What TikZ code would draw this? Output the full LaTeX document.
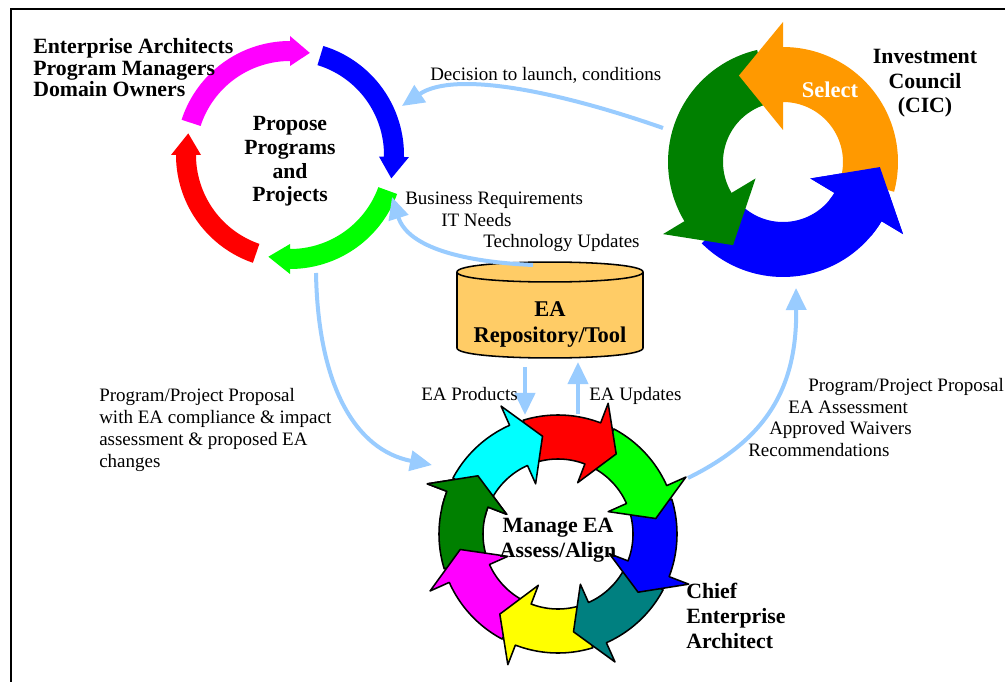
\documentclass[tikz,border=0pt]{standalone}
\usepackage{fontspec}
\setmainfont{Liberation Serif}
\usetikzlibrary{arrows.meta}
\definecolor{flowblue}{RGB}{153,204,255}
\definecolor{repofill}{RGB}{255,204,102}
\definecolor{corange}{RGB}{255,153,0}
\definecolor{cdkgreen}{RGB}{0,128,0}
\definecolor{cteal}{RGB}{0,128,128}
\definecolor{cblue}{RGB}{0,0,255}
\definecolor{cgreen}{RGB}{0,255,0}
\definecolor{cred}{RGB}{255,0,0}
\definecolor{cmagenta}{RGB}{255,0,255}
\definecolor{ccyan}{RGB}{0,255,255}
\definecolor{cyellow}{RGB}{255,255,0}
\tikzset{
  flow/.style={draw=flowblue, line width=0.1cm, -{Triangle[length=0.55cm,width=0.5cm]}},
  txt/.style={font=\fontsize{13.5}{15.6}\selectfont, inner sep=0pt, align=left, anchor=base west},
  roletxt/.style={font=\fontsize{15.5}{15.6}\selectfont\bfseries, inner sep=0pt, align=left, anchor=base west},
  cycletxt/.style={font=\fontsize{15.5}{17.7}\selectfont\bfseries, inner sep=0pt, align=center, anchor=base},
  ea/.style={draw=black, line width=1.1pt, line join=round}
}
% curved arrow on a ring: start angle, head base angle, tip angle
\newcommand{\ringarrow}[4][]{%
  \path[#1] plot[domain=#2:#3,samples=40] (\x:\rout) -- (#3:\hout) -- (#4:\rtip)
    -- (#3:\hin) -- (#3:\rin) -- plot[domain=#3:#2,samples=40] (\x:\rin) -- cycle;}

\begin{document}
\begin{tikzpicture}[x=0.025cm,y=-0.025cm]
  \useasboundingbox (0,0) rectangle (1005,682);
  \fill[white] (0,0) rectangle (1005,682);
  \draw[line width=1.9pt] (1012,9) -- (11,9) -- (11,690);

  % connectors
  \coordinate (decS) at (663,128);
  \coordinate (decE) at (402,106);
  \coordinate (propS) at (316,273);
  \coordinate (propE) at (432,465);
  \coordinate (mngS) at (688,478);
  \coordinate (mngE) at (796,288);
  \coordinate (prodS) at (525,367);
  \coordinate (prodE) at (525,415);
  \coordinate (updS) at (578,414);
  \coordinate (updE) at (578,362);
  \draw[flow] (decS) .. controls (560,92) and (455,70) .. (decE);
  \draw[flow] (propS) .. controls (318,385) and (355,450) .. (propE);
  \draw[flow] (mngS) .. controls (765,440) and (797,390) .. (mngE);
  \draw[flow] (prodS) -- (prodE);
  \draw[flow] (updS) -- (updE);

  % Propose cycle
  \begin{scope}[shift={(290,155)}]
    \def\rin{94}\def\rout{114}\def\hin{89}\def\hout{119}\def\rtip{104}
    \ringarrow[fill=cmagenta]{198}{270}{281}
    \ringarrow[fill=cblue]{287}{361}{373}
    \ringarrow[fill=cgreen]{380}{450}{462}
    \ringarrow[fill=cred]{469}{540}{552}
  \end{scope}

  % Select cycle
  \begin{scope}[shift={(783,162)}]
    \def\rin{60}\def\rout{115}\def\hin{32}\def\hout{140}\def\rtip{97}
    \ringarrow[fill=cblue]{-225}{-329}{-357}
    \ringarrow[fill=cdkgreen]{-103}{-211}{-239}
    \ringarrow[fill=corange]{15}{-90}{-117}
    \begin{scope}
      \clip (0,0) -- plot[domain=-365:-320,samples=10] (\x:170) -- cycle;
      \ringarrow[fill=cblue]{-225}{-329}{-357}
    \end{scope}
  \end{scope}

  % Manage EA cycle
  \begin{scope}[shift={(558,534)}]
    \def\rin{75}\def\rout{119}\def\hin{55}\def\hout{140}\def\rtip{99}
    \foreach \tp/\col in {576/cdkgreen, 531/cmagenta, 486/cyellow, 441/cteal,
                          396/cblue, 351/cgreen, 306/cred, 261/ccyan}{
      \pgfmathsetmacro\ta{\tp-53}
      \pgfmathsetmacro\tb{\tp-15}
      \ringarrow[ea, fill=\col]{\ta}{\tb}{\tp}
    }
    \begin{scope}
      \clip (0,0) -- plot[domain=553:588,samples=10] (\x:170) -- cycle;
      \ringarrow[ea, fill=cdkgreen]{523}{561}{576}
    \end{scope}
  \end{scope}

  % repository
  \filldraw[fill=repofill, draw=black, line width=1.1pt] (457,272) -- (457,348)
    .. controls (457,361.3) and (643,361.3) .. (643,348) -- (643,272)
    .. controls (643,258.7) and (457,258.7) .. (457,272) -- cycle;
  \draw[line width=1.1pt] (457,272) .. controls (457,285.3) and (643,285.3) .. (643,272);
  \coordinate (techS) at (533,265);
  \coordinate (techE) at (392,197);
  \draw[flow] (techS) .. controls (465,262) and (408,248) .. (techE);

  % labels
  \node[roletxt] (owners) at (33,97) {Enterprise Architects\\Program Managers\\Domain Owners};
  \node[cycletxt, font=\fontsize{15.4}{17}\selectfont\bfseries] (propose) at (290,202) {Propose\\Programs\\and\\Projects};
  \node[txt] (decision) at (430,81) {Decision to launch, conditions};
  \node[txt] (bizreq) at (405,205) {Business Requirements};
  \node[txt] (itneeds) at (441,227) {IT Needs};
  \node[txt] (techupd) at (483,247) {Technology Updates};
  \node[cycletxt] (council) at (925,113) {Investment\\Council\\(CIC)};
  \node[cycletxt, text=white, font=\fontsize{16}{17}\selectfont\bfseries] (select) at (830,98) {Select};
  \node[cycletxt, font=\fontsize{16}{18.4}\selectfont\bfseries] (repo) at (550,342) {EA\\Repository/Tool};
  \node[txt] (proposal) at (99,467) {Program/Project Proposal\\with EA compliance \& impact\\assessment \& proposed EA\\changes};
  \node[txt] (eaprod) at (421,400) {EA Products};
  \node[txt] (eaupd) at (589,400) {EA Updates};
  \node[cycletxt] (manage) at (558,557) {Manage EA\\Assess/Align};
  \node[cycletxt, align=left, anchor=base west] (chief) at (686,648) {Chief\\Enterprise\\Architect};
  \node[txt] (cicprop) at (808,391) {Program/Project Proposal};
  \node[txt] (assess) at (788,413) {EA Assessment};
  \node[txt] (waivers) at (769,434) {Approved Waivers};
  \node[txt] (recomm) at (748,456) {Recommendations};
\end{tikzpicture}
\end{document}
